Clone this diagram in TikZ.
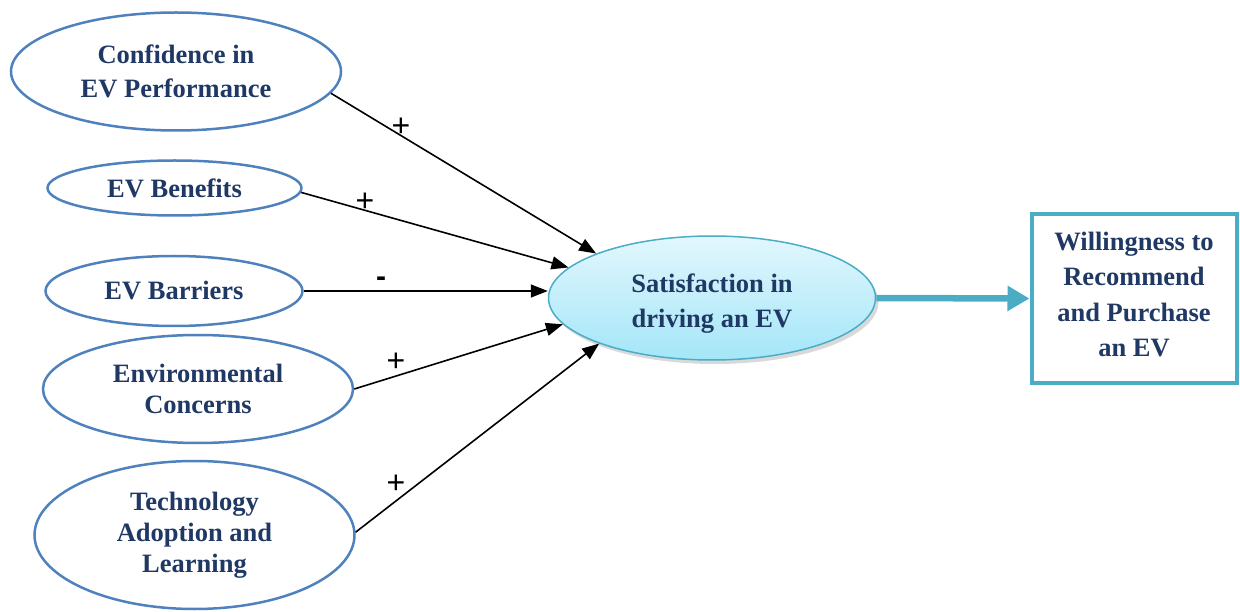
\documentclass[tikz,border=0pt]{standalone}
\usepackage{fontspec}
\setmainfont{Liberation Serif}
\newfontfamily\signfont{Liberation Sans}
\usetikzlibrary{arrows.meta,shadows,shapes.geometric}
\definecolor{navy}{HTML}{1F3864}
\definecolor{ovalblue}{HTML}{4F81BD}
\definecolor{tealline}{HTML}{4BACC6}
\definecolor{skytop}{HTML}{E2F7FD}
\definecolor{skybottom}{HTML}{A4E6F8}
\tikzset{
  construct/.style={ellipse, draw=ovalblue, line width=2.5pt, inner sep=0pt,
    align=center, text=navy, font=\fontsize{26.5}{31}\selectfont\bfseries},
  outcome/.style={ellipse, draw=tealline, line width=1.5pt, inner sep=0pt,
    top color=skytop, bottom color=skybottom,
    drop shadow={shadow xshift=3pt, shadow yshift=-4pt, opacity=0.3, fill=black!50}},
  resultbox/.style={rectangle, draw=tealline, line width=4pt, inner sep=0pt},
  caption/.style={align=center, text=navy, inner sep=0pt,
    font=\fontsize{26.5}{35.3}\selectfont\bfseries},
  link/.style={line width=1.6pt, -{Triangle[length=17pt,width=13pt]}},
  sign/.style={font=\signfont\fontsize{32}{32}\selectfont, text=black, inner sep=0pt},
}
\begin{document}
\begin{tikzpicture}[x=1pt,y=-1pt]
\useasboundingbox (0,0) rectangle (1240,612);

% predictor constructs
\node[construct, minimum width=330pt, minimum height=118pt] (conf) at (176,71.5)
  {Confidence in\\[3pt]EV Performance};
\node[construct, minimum width=254pt, minimum height=55pt] (ben) at (174.5,188) {EV Benefits};
\node[construct, minimum width=257pt, minimum height=70pt] (bar) at (174,291) {EV Barriers};
\node[construct, minimum width=310pt, minimum height=108pt] (env) at (198,389)
  {Environmental\\Concerns};
\node[construct, minimum width=320pt, minimum height=148pt] (tech) at (194.5,535)
  {Technology\\Adoption and\\Learning};

% mediating outcome and final outcome
\node[outcome, minimum width=327pt, minimum height=124pt] (sat) at (712,298) {};
\node[caption] (sattext) at (712,303.5) {Satisfaction in\\driving an EV};
\node[resultbox, minimum width=205pt, minimum height=169pt] (will) at (1134,298.5) {};
\node[caption] (willtext) at (1134,294.5)
  {Willingness to\\Recommend\\and Purchase\\an EV};

% hypothesised paths
\draw[link] (conf.-8.5) -- (sat.159);
\draw[link] (ben.-2) -- (sat.168.4);
\draw[link] (bar.east) -- (sat.west |- bar.east);
\draw[link] (env.0.5) -- (sat.-170.3);
\draw[link] (tech.1.8) -- (sat.-158.4);

\draw[tealline, line width=6.5pt, -{Triangle[length=22pt,width=24pt]}] (sat.east) -- (will.west);

% path signs
\node[sign] (s1) at (401,127) {+};
\node[sign] (s2) at (365,202) {+};
\node[sign, font=\signfont\bfseries\fontsize{30}{30}\selectfont] (s3) at (381,282) {-};
\node[sign] (s4) at (396,362) {+};
\node[sign] (s5) at (396,484) {+};
\end{tikzpicture}
\end{document}
